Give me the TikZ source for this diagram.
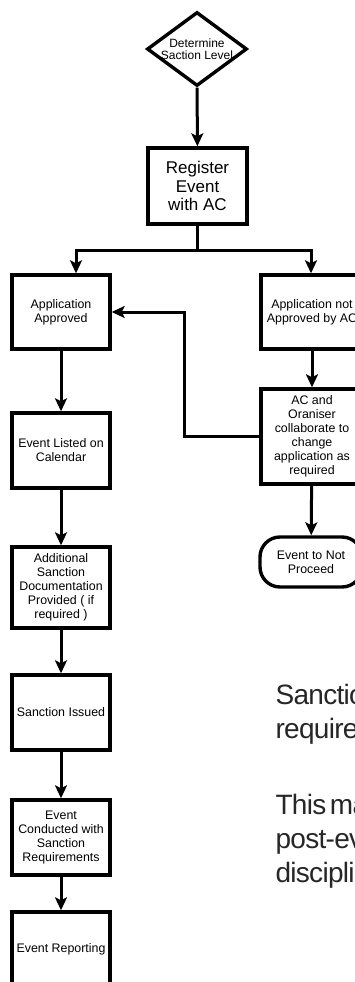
\documentclass[tikz,border=0pt]{standalone}
\usepackage{fontspec}
\setmainfont{Liberation Sans}
\newfontfamily\notefont[LetterSpace=-2.5,WordSpace=0.5]{Liberation Sans}
\usetikzlibrary{arrows.meta,shapes.geometric}

\begin{document}
\begin{tikzpicture}[x=1pt,y=-1pt,>={Stealth[length=13pt,width=12pt,inset=3pt]},
    box/.style={draw,line width=3.4pt,minimum width=98pt,inner sep=2pt,align=center,
      font=\fontsize{12.4}{14}\selectfont},
    link/.style={line width=3pt},
    side/.style={anchor=base west,text=black!85,font=\notefont\fontsize{28}{34}\selectfont}]
    \useasboundingbox (0,0) rectangle (355,982);
    \clip (0,0) rectangle (355,982);
    % Top of the flow
    \node[diamond,draw,line width=3.4pt,minimum width=100pt,minimum height=74pt,inner sep=0pt,
      align=center,font=\fontsize{12}{11.5}\selectfont] (level) at (197,49)
      {\makebox[0pt]{Determine}\\\makebox[0pt]{Saction Level}};
    \node[box,minimum width=99pt,minimum height=76pt,font=\fontsize{17}{18.5}\selectfont]
      (register) at (197.5,186) {Register\\Event\\with AC};
    % Left column
    \node[box,minimum height=74pt] (approved) at (61,312) {Application\\Approved};
    \node[box,minimum height=75pt] (listed) at (61,450.5) {Event Listed on\\Calendar};
    \node[box,minimum height=81pt] (docs) at (61,587.5)
      {Additional\\Sanction\\Documentation\\Provided ( if\\required )};
    \node[box,minimum height=75pt] (issued) at (61,712.5) {Sanction Issued};
    \node[box,minimum height=75pt] (conducted) at (61,837.5)
      {Event\\Conducted with\\Sanction\\Requirements};
    \node[box,minimum height=75pt] (reporting) at (61,949.5) {Event Reporting};
    % Right column
    \node[box,minimum width=102pt,minimum height=74pt] (declined) at (312,312)
      {Application not\\Approved by AC};
    \node[box,minimum width=102pt,minimum height=95pt] (collab) at (312,436.5)
      {AC and\\Oraniser\\collaborate to\\change\\application as\\required};
    \node[box,minimum width=102pt,minimum height=50pt,rounded corners=20pt] (stop) at (311,562)
      {Event to Not\\Proceed};
    % Connectors
    \coordinate (split) at (197.5,250);
    \coordinate (splitL) at (76,250);
    \coordinate (splitR) at (311,250);
    \coordinate (turn) at (184,436.5);
    \draw[link,->] (level) -- (register);
    \draw[link] (register) -- (split);
    \draw[link,->] (split) -- (splitL) -- (splitL |- approved.north);
    \draw[link,->] (split) -- (splitR) -- (splitR |- declined.north);
    \draw[link,->] (declined) -- (collab);
    \draw[link,->] (collab) -- (stop);
    \draw[link,->] (collab.west) -- (turn) |- (approved.east);
    \foreach \a/\b in {approved/listed,listed/docs,docs/issued,issued/conducted,conducted/reporting}
      \draw[link,->] (\a) -- (\b);
    % Side note
    \foreach \t/\yy [count=\i] in {Sanctio/704,require/738,This ma/814,post-ev/848,discipli/882}
      \node[side] (note\i) at (272,\yy) {\t};
\end{tikzpicture}
\end{document}
